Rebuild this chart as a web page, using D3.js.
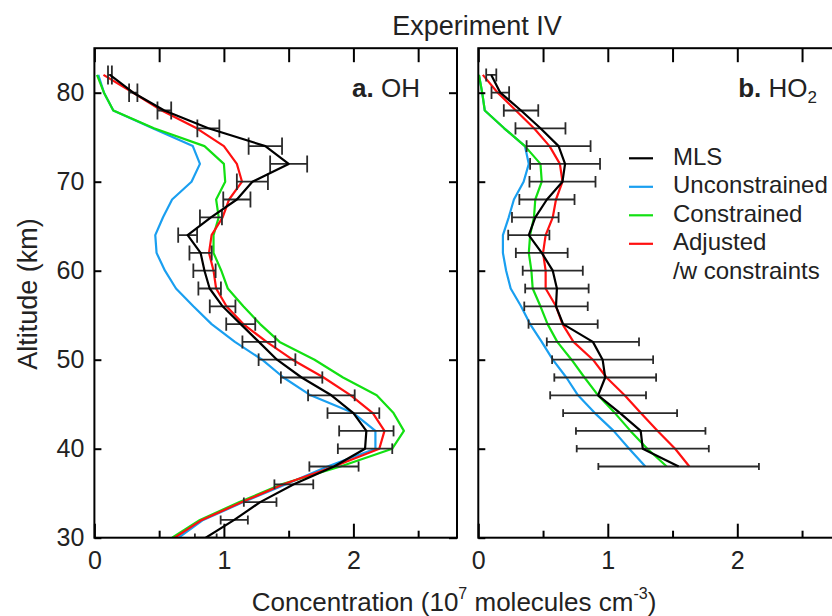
<!DOCTYPE html>
<html>
<head>
<meta charset="utf-8">
<script src="https://cdn.jsdelivr.net/npm/d3@7"></script>
<style>
  body { margin: 0; background: #fff; }
  svg { display: block; font-family: "Liberation Sans", Arial, Helvetica, sans-serif; }
  .axis text { font-size: 25px; fill: #222; }
  .axis line { stroke: #000; stroke-width: 2; }
</style>
</head>
<body>
<div id="chart"></div>
<script>
// ==== Profiles (altitude in km, concentration in 1e7 molecules/cm3) ====
const altOH = [82, 80, 78, 76, 74, 72, 70, 68, 66, 64, 62, 60, 58, 56, 54, 52, 50, 48, 46, 44, 42, 40, 38, 36, 34, 32, 30];
const ohMLS    = [0.12, 0.30, 0.54, 0.88, 1.32, 1.50, 1.22, 1.10, 0.90, 0.72, 0.82, 0.85, 0.89, 0.99, 1.13, 1.27, 1.41, 1.60, 1.83, 2.00, 2.10, 2.09, 1.85, 1.54, 1.28, 1.08, 0.86];
const ohErr    = [0.015, 0.032, 0.053, 0.085, 0.129, 0.143, 0.12, 0.105, 0.085, 0.073, 0.086, 0.086, 0.087, 0.099, 0.112, 0.127, 0.142, 0.16, 0.18, 0.20, 0.21, 0.21, 0.19, 0.15, 0.126, 0.105, 0.084];
const ohUncon  = [0.03, 0.074, 0.146, 0.45, 0.76, 0.815, 0.75, 0.60, 0.53, 0.47, 0.48, 0.545, 0.63, 0.764, 0.905, 1.085, 1.295, 1.46, 1.67, 2.00, 2.17, 2.17, 1.80, 1.48, 1.15, 0.84, 0.65];
const ohCon    = [0.02, 0.074, 0.146, 0.46, 0.85, 1.00, 1.01, 0.94, 0.96, 0.92, 0.92, 0.98, 1.03, 1.15, 1.28, 1.43, 1.70, 1.92, 2.18, 2.31, 2.39, 2.30, 1.90, 1.445, 1.12, 0.815, 0.60];
const ohAdj    = [0.07, 0.30, 0.52, 0.79, 1.00, 1.10, 1.14, 1.04, 0.99, 0.905, 0.885, 0.92, 0.94, 1.02, 1.15, 1.33, 1.53, 1.77, 1.98, 2.15, 2.24, 2.20, 1.85, 1.46, 1.14, 0.83, 0.62];

const altHO2 = [82, 80, 78, 76, 74, 72, 70, 68, 66, 64, 62, 60, 58, 56, 54, 52, 50, 48, 46, 44, 42, 40, 38];
const hoMLS    = [0.10, 0.17, 0.33, 0.48, 0.62, 0.67, 0.65, 0.53, 0.44, 0.39, 0.49, 0.575, 0.607, 0.60, 0.655, 0.885, 0.96, 0.98, 0.925, 1.095, 1.254, 1.27, 1.547];
const hoErr    = [0.039, 0.068, 0.133, 0.193, 0.247, 0.27, 0.255, 0.213, 0.18, 0.159, 0.20, 0.232, 0.245, 0.245, 0.267, 0.356, 0.39, 0.393, 0.37, 0.44, 0.50, 0.51, 0.62];
const hoUncon  = [0.005, 0.03, 0.05, 0.20, 0.36, 0.39, 0.35, 0.275, 0.235, 0.19, 0.19, 0.215, 0.25, 0.33, 0.40, 0.49, 0.575, 0.68, 0.77, 0.90, 1.045, 1.165, 1.29];
const hoCon    = [0.005, 0.03, 0.05, 0.20, 0.36, 0.48, 0.49, 0.44, 0.43, 0.40, 0.39, 0.41, 0.42, 0.48, 0.535, 0.61, 0.72, 0.82, 0.925, 1.055, 1.175, 1.305, 1.455];
const hoAdj    = [0.035, 0.15, 0.29, 0.43, 0.55, 0.63, 0.65, 0.60, 0.575, 0.52, 0.50, 0.52, 0.52, 0.60, 0.65, 0.735, 0.885, 0.99, 1.13, 1.255, 1.385, 1.52, 1.63];

const seriesNames = ["MLS", "Unconstrained", "Constrained", "Adjusted"];
const altTicks = [30, 40, 50, 60, 70, 80];
const concMajor = [0, 1, 2];
const concMinor = [0.5, 1.5, 2.5];
const concAll = [0, 0.5, 1, 1.5, 2, 2.5];

const colors = { MLS: "#000", Unconstrained: "#1a9ff0", Constrained: "#12e012", Adjusted: "#ff1010" };

// ==== Setup ====
const W = 832, H = 616;
const svg = d3.select("#chart").append("svg").attr("width", W).attr("height", H);

const plotTop = 48.2, plotBottom = 537.7;
const y = d3.scaleLinear().domain([30, 85]).range([plotBottom, plotTop]);
const xA = d3.scaleLinear().domain([0, 2.8]).range([94.4, 457]);
const xB = d3.scaleLinear().domain([0, 2.8]).range([478.3, 478.3 + 362.6]);

function panel(id, x, alts, mls, err, uncon, con, adj, capH, altLabels) {
  const g = svg.append("g");
  const [x0, x1] = x.range();

  g.append("clipPath").attr("id", id).append("rect")
    .attr("x", x0).attr("y", plotTop).attr("width", x1 - x0).attr("height", plotBottom - plotTop);
  const plot = g.append("g").attr("clip-path", `url(#${id})`);

  const line = vals => d3.line()
    .x((d, i) => x(vals[i]))
    .y(d => y(d))(alts);

  [["Unconstrained", uncon], ["Constrained", con], ["Adjusted", adj]].forEach(([name, vals]) => {
    plot.append("path").attr("d", line(vals))
      .attr("fill", "none").attr("stroke", colors[name]).attr("stroke-width", 2.2)
      .attr("stroke-linejoin", "round");
  });

  // MLS error bars
  const bars = plot.append("g").attr("stroke", "#2a2a2a").attr("stroke-width", 1.8);
  alts.forEach((a, i) => {
    const yy = y(a), lo = x(mls[i] - err[i]), hi = x(mls[i] + err[i]), h = capH(a) / 2;
    bars.append("line").attr("x1", lo).attr("x2", hi).attr("y1", yy).attr("y2", yy);
    bars.append("line").attr("x1", lo).attr("x2", lo).attr("y1", yy - h).attr("y2", yy + h);
    bars.append("line").attr("x1", hi).attr("x2", hi).attr("y1", yy - h).attr("y2", yy + h);
  });

  plot.append("path").attr("d", line(mls))
    .attr("fill", "none").attr("stroke", colors.MLS).attr("stroke-width", 2.2)
    .attr("stroke-linejoin", "round");

  // axes with inward ticks
  g.append("g").attr("class", "axis").attr("transform", `translate(${x0},0)`)
    .call(d3.axisLeft(y).tickValues(altTicks).tickSize(-7).tickPadding(10)
      .tickFormat(altLabels ? d3.format("d") : ""))
    .call(s => s.select(".domain").remove());
  g.append("g").attr("class", "axis").attr("transform", `translate(${x1},0)`)
    .call(d3.axisRight(y).tickValues(altTicks).tickSize(-8).tickFormat(""))
    .call(s => s.select(".domain").remove());
  g.append("g").attr("class", "axis").attr("transform", `translate(0,${plotTop})`)
    .call(d3.axisTop(x).tickValues(concAll).tickSize(-14).tickFormat(""))
    .call(s => s.select(".domain").remove());
  g.append("g").attr("class", "axis").attr("transform", `translate(0,${plotBottom})`)
    .call(d3.axisBottom(x).tickValues(concMajor).tickSize(-14).tickPadding(13.5).tickFormat(d3.format("d")))
    .call(s => s.select(".domain").remove());
  g.append("g").attr("class", "axis").attr("transform", `translate(0,${plotBottom})`)
    .call(d3.axisBottom(x).tickValues(concMinor).tickSize(-7).tickFormat(""))
    .call(s => s.select(".domain").remove());

  g.append("rect").attr("x", x0).attr("y", plotTop).attr("width", x1 - x0).attr("height", plotBottom - plotTop)
    .attr("fill", "none").attr("stroke", "#000").attr("stroke-width", 2);
  return g;
}

panel("clipA", xA, altOH, ohMLS, ohErr, ohUncon, ohCon, ohAdj, a => 8.6 + (a - 30) * 0.2, true);
panel("clipB", xB, altHO2, hoMLS, hoErr, hoUncon, hoCon, hoAdj, a => 7 + (a - 38) * 0.136, false);

// ==== Labels ====
svg.append("text").attr("x", 477).attr("y", 35).attr("text-anchor", "middle")
  .attr("font-size", 27).attr("fill", "#222").text("Experiment IV");

const la = svg.append("text").attr("x", 420).attr("y", 97).attr("text-anchor", "end")
  .attr("font-size", 26).attr("fill", "#222");
la.append("tspan").attr("font-weight", "bold").text("a.");
la.append("tspan").text(" OH");

const lb = svg.append("text").attr("x", 817).attr("y", 97).attr("text-anchor", "end")
  .attr("font-size", 26).attr("fill", "#222");
lb.append("tspan").attr("font-weight", "bold").text("b.");
lb.append("tspan").text(" HO");
lb.append("tspan").attr("font-size", 17).attr("dy", 6).text("2");

svg.append("text").attr("transform", "translate(37,294) rotate(-90)").attr("text-anchor", "middle")
  .attr("font-size", 27).attr("fill", "#222").text("Altitude (km)");

const xl = svg.append("text").attr("x", 454).attr("y", 611).attr("text-anchor", "middle")
  .attr("font-size", 26).attr("fill", "#222");
xl.append("tspan").text("Concentration (10");
xl.append("tspan").attr("font-size", 16).attr("dy", -12).text("7");
xl.append("tspan").attr("dy", 12).text(" molecules cm");
xl.append("tspan").attr("font-size", 16).attr("dy", -12).text("-3");
xl.append("tspan").attr("dy", 12).text(")");

// ==== Legend ====
const legendLabels = ["MLS", "Unconstrained", "Constrained", "Adjusted"];
const leg = svg.append("g");
seriesNames.forEach((name, i) => {
  const ly = 158.3 + i * 28.5;
  leg.append("line").attr("x1", 629).attr("x2", 653).attr("y1", ly).attr("y2", ly)
    .attr("stroke", colors[name]).attr("stroke-width", 2.2);
  leg.append("text").attr("x", 673).attr("y", ly + 6.5).attr("font-size", 24).attr("fill", "#222")
    .text(legendLabels[i]);
});
leg.append("text").attr("x", 673).attr("y", 158.3 + 4 * 28.5 + 6.5).attr("font-size", 24).attr("fill", "#222")
  .text("/w constraints");
</script>
</body>
</html>
